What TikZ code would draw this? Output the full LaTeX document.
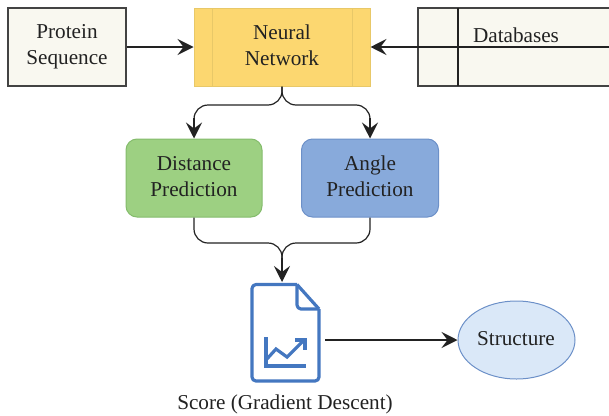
\documentclass[tikz,border=0pt]{standalone}
\usepackage{fontspec}
\setmainfont{Liberation Serif}
\usetikzlibrary{arrows.meta,shapes.geometric}
\definecolor{creamfill}{HTML}{F9F8F0}
\definecolor{yellowfill}{HTML}{FCD770}
\definecolor{yellowline}{HTML}{E8C868}
\definecolor{greenfill}{HTML}{9DD082}
\definecolor{greenline}{HTML}{84BC6C}
\definecolor{bluefill}{HTML}{88AADB}
\definecolor{blueline}{HTML}{6C90C8}
\definecolor{iconblue}{HTML}{4477C0}
\definecolor{ellfill}{HTML}{DAE8F8}
\definecolor{inkline}{HTML}{222222}
\tikzset{
  x=1pt,y=-1pt,
  every node/.style={font=\fontsize{21.2}{26}\selectfont,text=inkline,inner sep=0pt,align=center},
  plainbox/.style={draw=inkline!85,line width=1.1pt,fill=creamfill},
  netbox/.style={draw=yellowline,line width=1pt,fill=yellowfill},
  roundgreen/.style={draw=greenline,line width=1pt,fill=greenfill,rounded corners=11pt},
  roundblue/.style={draw=blueline,line width=1pt,fill=bluefill,rounded corners=11pt},
  flow/.style={draw=inkline,line width=1.3pt,-{Stealth[length=16pt,width=16pt,inset=6pt]}},
  curveline/.style={draw=inkline,line width=1.2pt,rounded corners=14pt},
  icon/.style={draw=iconblue,line width=3.2pt,line join=round},
}
\begin{document}
\begin{tikzpicture}
\useasboundingbox (0,0) rectangle (609,415);
\clip (0,0) rectangle (609,415);
% boxes
\node[plainbox,minimum width=118pt,minimum height=78pt] (protein) at (67,47) {};
\node (proteintext) at (67,47) {Protein\\Sequence};
\node[netbox,minimum width=176pt,minimum height=78pt] (net) at (282,47) {};
\draw[yellowline,line width=1pt] (212,8) -- (212,86) (352,8) -- (352,86);
\node (nettext) at (282,45.5) {Neural\\Network};
\node[plainbox,minimum width=210pt,minimum height=78pt] (db) at (523,47) {};
\draw[inkline,line width=1.5pt] (458,8) -- (458,86);
\coordinate (dbright) at (610,47);
\draw[inkline,line width=1.5pt] (dbright) -- (db.west);
\node (dbtext) at (516,35) {Databases};
\node[roundgreen,minimum width=136pt,minimum height=78pt] (dist) at (194,178) {};
\node (disttext) at (194,176.5) {Distance\\Prediction};
\node[roundblue,minimum width=137pt,minimum height=78pt] (angle) at (370,178) {};
\node (angletext) at (370,176.5) {Angle\\Prediction};
\node[draw=blueline,line width=1pt,fill=ellfill,ellipse,minimum width=117pt,minimum height=78pt] (struct) at (516.5,340) {};
\node (structtext) at (516,339) {Structure};
\node (score) at (285,404) {Score (Gradient Descent)};
\coordinate (docin) at (282,282);
\coordinate (docout) at (325,340);
% arrows
\draw[flow] (protein.east) -- (net.west);
\draw[flow] (db.west) -- (net.east);
\draw[curveline] (net.south) -- (282,105) -- (194,105) -- (194,125);
\draw[curveline] (net.south) -- (282,105) -- (370,105) -- (370,125);
\draw[flow] (194,118) -- (dist.north);
\draw[flow] (370,118) -- (angle.north);
\draw[curveline] (dist.south) -- (194,243) -- (282,243) -- (282,265);
\draw[curveline] (angle.south) -- (370,243) -- (282,243) -- (282,265);
\draw[flow] (282,258) -- (docin);
\draw[flow] (docout) -- (struct.west);
% document icon
\draw[icon,rounded corners=4pt] (297,284.5) -- (252,284.5) -- (252,381) -- (319,381) -- (319,309);
\draw[icon] (297,284.5) -- (319,309);
\draw[icon,rounded corners=4pt] (297,284.5) -- (297,309) -- (319,309);
\draw[icon,line join=miter] (266,337) -- (266,366) -- (306,366);
\draw[icon,line join=miter] (266,360) -- (276,349) -- (287,357) -- (303,341);
\draw[icon,line join=miter] (295,340) -- (305,340) -- (305,350);
\end{tikzpicture}
\end{document}
